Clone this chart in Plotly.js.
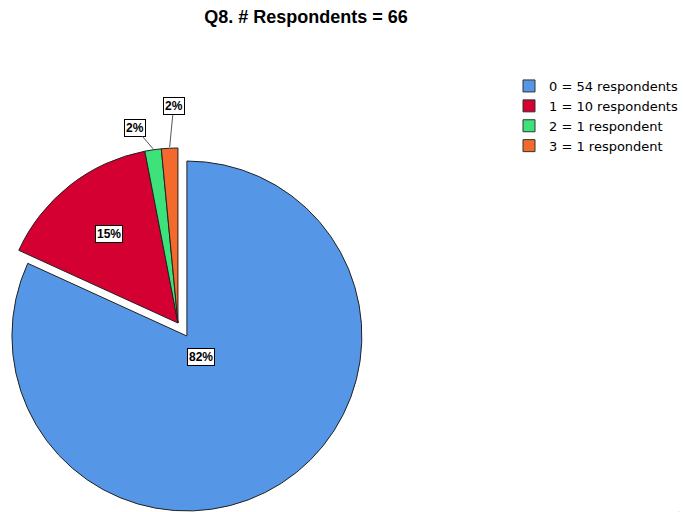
<!DOCTYPE html>
<html>
<head>
<meta charset="utf-8">
<script src="https://cdn.plot.ly/plotly-3.0.1.min.js"></script>
<style>html,body{margin:0;padding:0;overflow:hidden;background:#fff}#chart{width:683px;height:512px}</style>
</head>
<body>
<div id="chart"></div>
<script>
// ---- data ----
const categories = ['0 = 54 respondents', '1 = 10 respondents', '2 = 1 respondent', '3 = 1 respondent'];
const counts = [54, 10, 1, 1];
const titleText = 'Q8. # Respondents = 66';

// ---- style ----
const colors = ['#5596E6', '#D40031', '#3DE37A', '#F36A2C'];
const W = 683, H = 512;
const CX = 188, CY = 336, R = 176;      // pie centre / radius (px)
const EX = -9, EY = -13;                // offset of exploded group (px)
const labelFrac = [0.145, 0.64, 1.0, 1.0];
const labelArrow = [null, null, [-18, -21], [4, -41]];
const NONE = 'rgba(255,255,255,0)';

function domainAt(cx, cy) {
  return { x: [(cx - R) / W, (cx + R) / W], y: [1 - (cy + R) / H, 1 - (cy - R) / H] };
}
const total = counts.reduce((a, b) => a + b, 0);

const base = {
  type: 'pie', labels: categories, values: counts, sort: false,
  direction: 'clockwise', rotation: 0, textinfo: 'none', hoverinfo: 'skip'
};
// legend carrier: tiny pie hidden in the bottom-right corner
const legendOnly = Object.assign({}, base, {
  domain: { x: [0.99995, 1], y: [0, 0.00005] }, showlegend: true,
  marker: { colors: colors, line: { color: '#333', width: 1 } }
});
const blueOnly = Object.assign({}, base, {
  domain: domainAt(CX, CY), showlegend: false,
  marker: { colors: colors.map((c, i) => i === 0 ? c : NONE),
            line: { color: colors.map((c, i) => i === 0 ? '#222' : NONE), width: 1 } }
});
const exploded = Object.assign({}, base, {
  domain: domainAt(CX + EX, CY + EY), showlegend: false,
  marker: { colors: colors.map((c, i) => i === 0 ? NONE : c),
            line: { color: colors.map((c, i) => i === 0 ? NONE : '#222'), width: 1 } }
});

// percentage labels, placed from the data angles
const annotations = [];
let cum = 0;
counts.forEach((v, i) => {
  const th = 2 * Math.PI * (cum + v / 2) / total;
  cum += v;
  const cx = i === 0 ? CX : CX + EX, cy = i === 0 ? CY : CY + EY;
  const px = cx + labelFrac[i] * R * Math.sin(th);
  const py = cy - labelFrac[i] * R * Math.cos(th);
  const a = {
    xref: 'paper', yref: 'paper', x: px / W, y: 1 - py / H,
    xanchor: 'center', yanchor: 'middle',
    text: '<b>' + Math.round(100 * v / total) + '%</b>',
    font: { family: 'Liberation Sans, Arial, sans-serif', size: 12, color: '#000' },
    bgcolor: '#fff', bordercolor: '#000', borderwidth: 1, borderpad: 1,
    showarrow: false
  };
  if (labelArrow[i]) {
    Object.assign(a, { showarrow: true, arrowhead: 0, arrowwidth: 1, arrowcolor: '#555',
      ax: labelArrow[i][0], ay: labelArrow[i][1], standoff: 0 });
  }
  annotations.push(a);
});

const layout = {
  width: W, height: H,
  margin: { l: 0, r: 0, t: 0, b: 0 },
  paper_bgcolor: '#fff', plot_bgcolor: '#fff',
  font: { family: 'Liberation Sans, Arial, sans-serif', color: '#000' },
  title: { text: '<b>' + titleText + '</b>', x: 306 / W, xanchor: 'center', y: 1 - 17 / H, yanchor: 'middle',
           font: { size: 18, color: '#000', family: 'Liberation Sans, Arial, sans-serif' } },
  showlegend: true,
  legend: { x: 512 / W, xanchor: 'left', y: 1 - 71 / H, yanchor: 'top',
            font: { size: 13, color: '#000', family: 'DejaVu Sans, sans-serif' },
            bgcolor: 'rgba(0,0,0,0)', borderwidth: 0, traceorder: 'normal' },
  annotations: annotations
};

Plotly.newPlot('chart', [legendOnly, blueOnly, exploded], layout, { displayModeBar: false, staticPlot: true });
</script>
</body>
</html>
